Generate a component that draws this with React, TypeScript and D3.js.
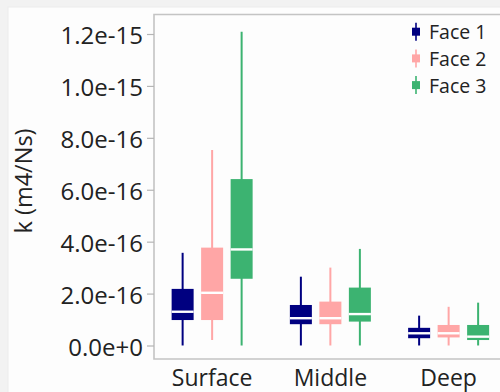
import React from "react";
import * as d3 from "d3";

const groups = ["Surface", "Middle", "Deep"];
const faces = ["Face 1", "Face 2", "Face 3"];
const faceColors = ["#000080", "#FFA6A6", "#3CB371"];
const yTicks = [0, 2e-16, 4e-16, 6e-16, 8e-16, 1.0e-15, 1.2e-15];
const yTickLabels = ["0.0e+0", "2.0e-16", "4.0e-16", "6.0e-16", "8.0e-16", "1.0e-15", "1.2e-15"];

// values in units of 1e-16, per face, per group (Surface, Middle, Deep)
const minValues = [
  [0.02, 0.02, 0.02],
  [0.23, 0.02, 0.02],
  [0.02, 0.02, 0.02],
];
const q1Values = [
  [1.0, 0.84, 0.3],
  [1.0, 0.84, 0.33],
  [2.59, 0.94, 0.23],
];
const medianValues = [
  [1.32, 1.07, 0.49],
  [2.05, 1.07, 0.49],
  [3.72, 1.23, 0.36],
];
const q3Values = [
  [2.2, 1.58, 0.7],
  [3.79, 1.71, 0.81],
  [6.43, 2.25, 0.81],
];
const maxValues = [
  [3.59, 2.67, 1.17],
  [7.55, 3.02, 1.51],
  [12.11, 3.74, 1.67],
];

const W = 500;
const H = 392;
const FONT = "'Open Sans', 'Noto Sans', sans-serif";

export default function App() {
  const x = d3.scaleBand<string>().domain(groups).range([153, 507.75]).padding(0);
  const xi = d3.scaleBand<string>().domain(faces).range([-44.25, 44.25]).padding(0);
  const y = d3.scaleLinear().domain([0, 1.2e-15]).range([346, 34.5]);
  const boxW = 22;
  const u = 1e-16;

  const left = 154;
  const top = 14.5;
  const bottom = 359;

  return (
    <svg
      width={W}
      height={H}
      style={{ position: "absolute", left: 0, top: 0, display: "block" }}
    >
      <rect x={0} y={0} width={W} height={H} fill="#f2f2f2" />
      <rect x={8} y={7} width={W} height={H} fill="#fdfdfd" stroke="#ebebeb" strokeWidth={1} />

      {/* frame */}
      <path
        d={`M${W},${top} H${left} V${bottom} H${W}`}
        fill="none"
        stroke="#c4c4c4"
        strokeWidth={1.6}
      />

      {/* y ticks */}
      {yTicks.map((t, i) => (
        <g key={i}>
          <line x1={147} x2={left} y1={y(t)} y2={y(t)} stroke="#b5b5b5" strokeWidth={1.2} />
          <text
            x={143}
            y={y(t)}
            textAnchor="end"
            dominantBaseline="central"
            fontFamily={FONT}
            fontSize={24}
            fill="#222"
          >
            {yTickLabels[i]}
          </text>
        </g>
      ))}

      <text
        transform={`translate(23,181) rotate(-90)`}
        textAnchor="middle"
        dominantBaseline="central"
        fontFamily={FONT}
        fontSize={23.5}
        fill="#222"
      >
        k (m4/Ns)
      </text>

      {/* boxes */}
      {groups.map((g, gi) =>
        faces.map((f, fi) => {
          const cx = (x(g) as number) + x.bandwidth() / 2 + (xi(f) as number) + xi.bandwidth() / 2;
          const c = faceColors[fi];
          const yMin = y(minValues[fi][gi] * u);
          const yMax = y(maxValues[fi][gi] * u);
          const yQ1 = y(q1Values[fi][gi] * u);
          const yQ3 = y(q3Values[fi][gi] * u);
          const yMed = y(medianValues[fi][gi] * u);
          return (
            <g key={g + f}>
              <line x1={cx} x2={cx} y1={yMin} y2={yMax} stroke={c} strokeWidth={2} />
              <rect x={cx - boxW / 2} y={yQ3} width={boxW} height={yQ1 - yQ3} fill={c} />
              <line
                x1={cx - boxW / 2}
                x2={cx + boxW / 2}
                y1={yMed}
                y2={yMed}
                stroke="#ffffff"
                strokeWidth={2.4}
              />
            </g>
          );
        })
      )}

      {/* x labels */}
      {groups.map((g) => (
        <text
          key={g}
          x={(x(g) as number) + x.bandwidth() / 2}
          y={386}
          textAnchor="middle"
          fontFamily={FONT}
          fontSize={23}
          fill="#222"
        >
          {g}
        </text>
      ))}

      {/* legend */}
      {faces.map((f, i) => {
        const ly = 31.7 + i * 26.7;
        return (
          <g key={f}>
            <line x1={416} x2={416} y1={ly - 9} y2={ly + 9} stroke={faceColors[i]} strokeWidth={1.6} />
            <rect x={412} y={ly - 4} width={8} height={8} fill={faceColors[i]} />
            <text
              x={429}
              y={ly}
              dominantBaseline="central"
              fontFamily={FONT}
              fontSize={19.5}
              fill="#222"
            >
              {f}
            </text>
          </g>
        );
      })}
    </svg>
  );
}
